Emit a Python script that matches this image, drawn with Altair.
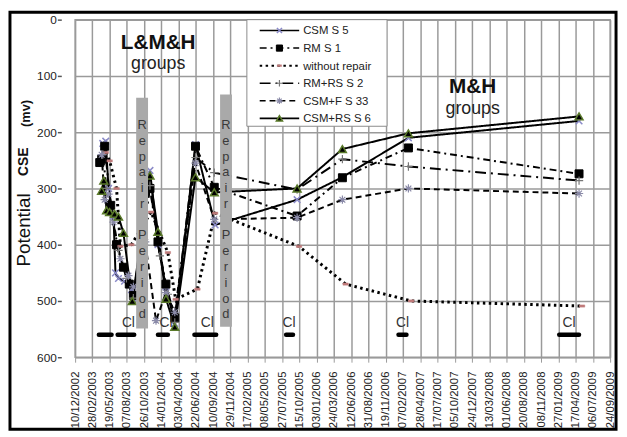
import altair as alt
import pandas as pd

# ---------------- data ----------------
tick_dates = ["2002-12-10", "2003-02-28", "2003-05-19", "2003-08-07", "2003-10-26", "2004-01-14",
              "2004-04-03", "2004-06-22", "2004-09-10", "2004-11-29", "2005-02-17", "2005-05-08",
              "2005-07-27", "2005-10-15", "2006-01-03", "2006-03-24", "2006-06-12", "2006-08-31",
              "2006-11-19", "2007-02-07", "2007-04-28", "2007-07-17", "2007-10-05", "2007-12-24",
              "2008-03-13", "2008-06-01", "2008-08-20", "2008-11-08", "2009-01-27", "2009-04-17",
              "2009-07-06", "2009-09-24"]
y_ticks = [0, 100, 200, 300, 400, 500, 600]

series_names = ["CSM  S 5", "RM S 1", "without repair", "RM+RS  S 2", "CSM+F S 33", "CSM+RS S 6"]

csm_s5_dates = ["2003-04-17", "2003-05-01", "2003-05-14", "2003-06-06", "2003-06-15", "2003-06-29",
                "2003-07-27", "2003-08-28", "2003-09-06", "2003-11-22", "2003-12-29", "2004-02-04",
                "2004-03-16", "2004-06-20", "2004-09-19", "2005-10-04", "2006-05-02", "2007-03-04",
                "2009-05-03"]
csm_s5_values = [220, 216, 300, 350, 450, 460, 465, 480, 495, 268, 400, 475, 540, 222, 365, 320, 280, 210, 180]

rm_s1_dates = ["2003-04-03", "2003-04-12", "2003-04-26", "2003-05-24", "2003-06-20", "2003-07-22",
               "2003-08-18", "2003-09-06", "2003-11-22", "2003-12-29", "2004-02-04", "2004-03-16",
               "2004-06-20", "2004-09-15", "2005-10-04", "2006-05-02", "2007-03-04", "2009-05-03"]
rm_s1_values = [254, 248, 225, 330, 400, 440, 470, 490, 300, 395, 470, 530, 225, 298, 349, 281, 228, 274]

norep_dates = ["2003-05-01", "2003-05-19", "2003-06-20", "2003-07-08", "2003-08-28", "2003-11-27",
               "2004-02-13", "2004-03-20", "2004-06-29", "2004-09-19", "2005-10-13", "2006-05-17",
               "2007-03-17", "2009-05-17"]
norep_values = [236, 251, 300, 403, 400, 342, 414, 497, 479, 344, 403, 470, 500, 509]

rmrs_s2_dates = ["2003-04-17", "2003-05-05", "2003-05-28", "2003-06-29", "2003-08-05", "2003-09-06",
                 "2003-11-22", "2004-01-07", "2004-02-13", "2004-03-16", "2004-06-20", "2004-09-15",
                 "2005-10-04", "2006-05-02", "2007-03-04", "2009-05-03"]
rmrs_s2_values = [240, 300, 345, 410, 460, 495, 295, 420, 488, 538, 245, 272, 302, 248, 261, 286]

csmf_s33_dates = ["2003-04-12", "2003-04-26", "2003-05-14", "2003-06-06", "2003-07-08", "2003-08-14",
                  "2003-09-06", "2003-10-31", "2003-12-20", "2004-02-04", "2004-03-16", "2004-06-20",
                  "2004-09-15", "2005-10-04", "2006-05-02", "2007-03-04", "2009-05-03"]
csmf_s33_values = [240, 320, 310, 360, 425, 455, 475, 395, 535, 485, 520, 255, 355, 352, 320, 300, 309]

csmrs_s6_dates = ["2003-04-12", "2003-04-22", "2003-05-05", "2003-05-19", "2003-06-11", "2003-06-29",
                  "2003-07-22", "2003-09-01", "2003-11-22", "2003-12-29", "2004-02-04", "2004-03-16",
                  "2004-06-20", "2004-09-15", "2005-10-04", "2006-05-02", "2007-03-04", "2009-05-03"]
csmrs_s6_values = [304, 286, 339, 342, 345, 350, 379, 500, 277, 377, 496, 546, 280, 307, 300, 230, 202, 172]

# chloride (Cl) measurement periods, plotted at 560
cl_starts = ["2003-03-30", "2003-06-25", "2003-12-29", "2004-06-15", "2005-08-14", "2007-01-17", "2009-01-31"]
cl_ends = ["2003-05-28", "2003-09-10", "2004-02-13", "2004-09-24", "2005-09-15", "2007-02-23", "2009-05-03"]
cl_level = [560, 560, 560, 560, 560, 560, 560]
cl_label_dates = ["2003-08-14", "2004-02-04", "2004-08-14", "2005-08-28", "2007-02-05", "2009-03-18"]
cl_label_values = [547, 547, 547, 547, 547, 547]

# repair periods
repair_starts = ["2003-09-19", "2004-10-12"]
repair_ends = ["2003-11-13", "2004-12-06"]
repair_tops = [139, 133]
repair_bottoms = [549, 546]
repair_mid = ["2003-10-17", "2004-11-08"]
repair_word1_top = [177, 177]
repair_word2_top = [373, 373]

group_labels = ["L&M&H", "M&H"]
group_dates = ["2003-12-30", "2007-12-27"]
group_title_values = [52, 131]
group_sub_values = [88, 167]

# ---------------- helpers ----------------
def ms(d):
    return int(pd.Timestamp(d, tz="UTC").value // 10**6)

FONT = "Liberation Sans"
W, H = 542, 342

x_scale = alt.Scale(type="utc", domain=[ms(tick_dates[0]), ms(tick_dates[-1])], nice=False)
y_scale = alt.Scale(domain=[0, 600], reverse=True, nice=False, zero=False)

x_axis = alt.Axis(values=[ms(d) for d in tick_dates], format="%d/%m/%Y", labelAngle=270,
                  labelFontSize=11.5, labelFont=FONT, labelColor="#222", title=None,
                  grid=True, gridColor="#9a9a9a", gridWidth=1.5, domainColor="#9a9a9a",
                  tickColor="#9a9a9a", tickSize=5, labelPadding=9, labelOverlap=False)
y_axis = alt.Axis(values=y_ticks, format="d", labelFontSize=12, labelFont=FONT, labelColor="#222",
                  title=None, grid=True, gridColor="#9a9a9a", gridWidth=1.5, domain=False,
                  tickColor="#555", tickSize=4, tickWidth=1.5, labelPadding=1, offset=14)


def X(field="date"):
    return alt.X(f"{field}:T", scale=x_scale, axis=x_axis)


def Y(field="value"):
    return alt.Y(f"{field}:Q", scale=y_scale, axis=y_axis)


x_shape = "M-1,-1L1,1M-1,1L1,-1"
plus_shape = "M-1,0L1,0M0,-1L0,1"
ast_shape = "M-1,0L1,0M0,-1L0,1M-0.7,-0.7L0.7,0.7M-0.7,0.7L0.7,-0.7"
dash_shape = "M-1,-0.4L1,-0.4L1,0.4L-1,0.4Z"

series_data = [
    (csm_s5_dates, csm_s5_values),
    (rm_s1_dates, rm_s1_values),
    (norep_dates, norep_values),
    (rmrs_s2_dates, rmrs_s2_values),
    (csmf_s33_dates, csmf_s33_values),
    (csmrs_s6_dates, csmrs_s6_values),
]
styles = [
    dict(dash=[1, 0], width=2, shape=x_shape, filled=False, fill=None, stroke="#8a8ac8", size=45, sw=1.5),
    dict(dash=[7, 4, 2, 4], width=2, shape="square", filled=True, fill="black", stroke="black", size=65, sw=1),
    dict(dash=[2.5, 3.5], width=3, shape=dash_shape, filled=True, fill="#c07a7a", stroke="#c07a7a", size=30, sw=0.5),
    dict(dash=[11, 5, 2, 5], width=2, shape=plus_shape, filled=False, fill=None, stroke="#777", size=70, sw=1.2),
    dict(dash=[6, 4], width=2, shape=ast_shape, filled=False, fill=None, stroke="#8a8aa8", size=70, sw=1.2),
    dict(dash=[1, 0], width=2, shape="triangle-up", filled=True, fill="black", stroke="#5a7a2a", size=65, sw=1.5),
]

line_layers, point_layers = [], []
for name, (ds, vs), st in zip(series_names, series_data, styles):
    df = pd.DataFrame({"date": ds, "value": vs, "series": name})
    line_layers.append(
        alt.Chart(df).mark_line(color="black", strokeWidth=st["width"], strokeDash=st["dash"])
        .encode(x=X(), y=Y(), order="date:T"))
    pkw = dict(shape=st["shape"], filled=st["filled"], size=st["size"], strokeWidth=st["sw"],
               stroke=st["stroke"], opacity=1)
    if st["fill"]:
        pkw["fill"] = st["fill"]
    point_layers.append(alt.Chart(df).mark_point(**pkw).encode(x=X(), y=Y()))

cl_df = pd.DataFrame({"start": cl_starts, "end": cl_ends, "value": cl_level})
cl_layer = alt.Chart(cl_df).mark_rule(color="black", strokeWidth=4.5, strokeCap="round").encode(
    x=X("start"), x2="end:T", y=Y())

cl_lab_df = pd.DataFrame({"date": cl_label_dates, "value": cl_label_values})
cl_lab = alt.Chart(cl_lab_df).mark_text(text="Cl", fontSize=14, font=FONT, color="#333",
                                          baseline="alphabetic", align="center").encode(x=X(), y=Y())

rep_df = pd.DataFrame({"start": repair_starts, "end": repair_ends, "top": repair_tops,
                       "bottom": repair_bottoms, "mid": repair_mid,
                       "t1": repair_word1_top, "t2": repair_word2_top})
rep_rect = alt.Chart(rep_df).mark_rect(color="#a9a9a9").encode(
    x=X("start"), x2="end:T", y=Y("top"), y2="bottom:Q")
rep_text1 = alt.Chart(rep_df).mark_text(
    text="R|e|p|a|i|r", lineBreak="|", lineHeight=16, baseline="top",
    align="center", fontSize=13, font=FONT, color="#3a3a3a").encode(x=X("mid"), y=Y("t1"))
rep_text2 = alt.Chart(rep_df).mark_text(
    text="P|e|r|i|o|d", lineBreak="|", lineHeight=16, baseline="top",
    align="center", fontSize=13, font=FONT, color="#3a3a3a").encode(x=X("mid"), y=Y("t2"))

grp_df = pd.DataFrame({"date": group_dates, "label": group_labels,
                       "tv": group_title_values, "sv": group_sub_values})
grp_title = alt.Chart(grp_df).mark_text(fontSize=21, fontWeight="bold", font=FONT, color="#111",
                                        baseline="alphabetic").encode(x=X(), y=Y("tv"), text="label:N")
grp_sub = alt.Chart(grp_df).mark_text(text="groups", fontSize=18, font=FONT, color="#222",
                                      baseline="alphabetic").encode(x=X(), y=Y("sv"))

one = pd.DataFrame({"a": [0]})

# legend (manual)
leg_layers = [alt.Chart(one).mark_rect(fill="white", stroke="#8a8a8a", strokeWidth=1).encode(
    x=alt.value(174), x2=alt.value(316), y=alt.value(0), y2=alt.value(108))]
for i, (name, st) in enumerate(zip(series_names, styles)):
    yy = 11 + i * 17.8
    leg_layers.append(alt.Chart(one).mark_rule(color="black", strokeWidth=1.6 if st["width"] < 3 else 2,
                                               strokeDash=st["dash"]).encode(
        x=alt.value(187), x2=alt.value(227), y=alt.value(yy)))
    pkw = dict(shape=st["shape"], filled=st["filled"], size=st["size"] * 0.6, strokeWidth=st["sw"],
               stroke=st["stroke"], opacity=1)
    if st["fill"]:
        pkw["fill"] = st["fill"]
    leg_layers.append(alt.Chart(one).mark_point(**pkw).encode(x=alt.value(207), y=alt.value(yy)))
    leg_layers.append(alt.Chart(one).mark_text(text=name, align="left", baseline="middle", fontSize=11.5,
                                               font=FONT, color="#222").encode(
        x=alt.value(231), y=alt.value(yy + 1)))

# y-axis title
ytitle1 = alt.Chart(one).mark_text(text="Potential", angle=270, fontSize=19, font=FONT, color="#111",
                                   align="center", baseline="middle").encode(
    x=alt.value(-52), y=alt.value(213))
ytitle2 = alt.Chart(one).mark_text(text="CSE", angle=270, fontSize=14, fontWeight="bold", font=FONT,
                                   color="#111", align="center", baseline="middle").encode(
    x=alt.value(-52), y=alt.value(144))
ytitle3 = alt.Chart(one).mark_text(text="(mv)", angle=270, fontSize=13, fontWeight="bold", font=FONT,
                                   color="#111", align="center", baseline="middle").encode(
    x=alt.value(-50), y=alt.value(95))

frame = alt.Chart(one).mark_rect(fillOpacity=0, stroke="black", strokeWidth=3).encode(
    x=alt.value(-66), x2=alt.value(548), y=alt.value(-7.5), y2=alt.value(415))

chart = alt.layer(
    *line_layers, cl_layer, *point_layers, rep_rect, rep_text1, rep_text2, cl_lab, grp_title, grp_sub,
    *leg_layers, ytitle1, ytitle2, ytitle3, frame
).properties(
    width=W, height=H,
    autosize=alt.AutoSizeParams(type="none"),
    padding={"left": 68, "top": 9, "right": 9, "bottom": 78},
    background="white",
).configure_view(stroke="#9a9a9a", strokeWidth=1.5)

chart.save("out.html", embed_options={"renderer": "svg", "actions": False})
